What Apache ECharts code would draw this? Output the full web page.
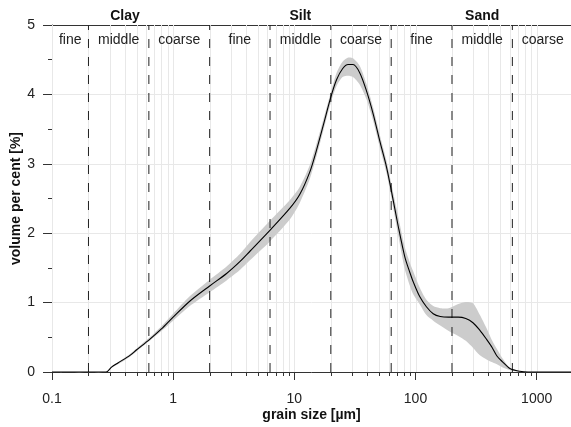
<!DOCTYPE html>
<html>
<head>
<meta charset="utf-8">
<script src="https://cdn.jsdelivr.net/npm/echarts@6/dist/echarts.min.js"></script>
<style>
  html, body { margin: 0; padding: 0; background: #fff; }
  #chart { width: 571px; height: 427px; }
</style>
</head>
<body>
<div id="chart"></div>
<script>
// grain size classes (µm)
var classBounds = [0.1, 0.2, 0.63, 2, 6.3, 20, 63, 200, 630, 2000]
var subNames = ['fine', 'middle', 'coarse', 'fine', 'middle', 'coarse', 'fine', 'middle', 'coarse']
var mainNames = ['Clay', 'Silt', 'Sand']
var mainCenters = [0.4, 11.2, 355]
var dividers = [0.2, 0.63, 2, 6.3, 20, 63, 200, 630]

// measured distribution
var sizes = [0.1, 0.28, 0.31, 0.35, 0.44, 0.5, 0.64, 0.8, 1.0, 1.37, 2.0, 2.76, 3.55, 4.3, 6.2, 9.2, 11.1, 13.4, 15.2, 17.3,
  20, 22.3, 25, 27.8, 30.5, 34.7, 39.4, 44.7, 50.7, 57.7, 63.4, 72, 81.6, 90, 95.7, 108, 123, 140, 160, 188,
  225, 260, 298, 340, 386, 430, 470, 520, 601, 725, 850, 1920]
var meanVol = [0, 0, 0.07, 0.13, 0.24, 0.32, 0.47, 0.62, 0.79, 1.02, 1.24, 1.42, 1.59, 1.74, 2.03, 2.36, 2.56, 2.88, 3.19, 3.55,
  3.96, 4.21, 4.37, 4.43, 4.43, 4.31, 4.05, 3.72, 3.33, 2.95, 2.60, 2.10, 1.66, 1.43, 1.30, 1.09, 0.94, 0.84, 0.80, 0.79,
  0.79, 0.77, 0.71, 0.60, 0.47, 0.35, 0.23, 0.15, 0.05, 0.01, 0, 0]
var lowVol = [0, 0, 0.06, 0.11, 0.22, 0.30, 0.45, 0.59, 0.74, 0.95, 1.15, 1.32, 1.47, 1.61, 1.87, 2.20, 2.44, 2.78, 3.10, 3.47,
  3.88, 4.12, 4.25, 4.27, 4.25, 4.14, 3.93, 3.62, 3.24, 2.86, 2.50, 1.97, 1.48, 1.24, 1.12, 0.98, 0.82, 0.74, 0.67, 0.59,
  0.52, 0.45, 0.35, 0.24, 0.18, 0.14, 0.11, 0.07, 0.03, 0, 0, 0]
var highVol = [0, 0, 0.08, 0.14, 0.26, 0.34, 0.50, 0.66, 0.84, 1.09, 1.33, 1.52, 1.70, 1.87, 2.17, 2.48, 2.67, 2.98, 3.28, 3.63,
  4.03, 4.31, 4.47, 4.53, 4.52, 4.41, 4.15, 3.81, 3.42, 3.04, 2.70, 2.24, 1.80, 1.57, 1.45, 1.22, 1.04, 0.95, 0.92, 0.92,
  0.98, 1.01, 0.99, 0.82, 0.63, 0.45, 0.33, 0.20, 0.06, 0.01, 0, 0]

var xTickLabels = ['0.1', '1', '10', '100', '1000']

var FONT = 'Liberation Sans, Arial, sans-serif'

// light vertical grid at 1..9 x 10^k, minor ticks at 2..9 x 10^k
var gridVals = []
var minorVals = []
for (var k = -1; k <= 3; k++) {
  for (var m = 1; m <= 9; m++) {
    var v = +(m * Math.pow(10, k)).toPrecision(3)
    if (v > 1920) continue
    gridVals.push(v)
    if (m > 1) minorVals.push(v)
  }
}

var subCenters = []
for (var i = 0; i < subNames.length; i++) {
  subCenters.push(Math.sqrt(classBounds[i] * classBounds[i + 1]))
}

var chart = echarts.init(document.getElementById('chart'), null, { renderer: 'canvas' })

// vertical line over full plot height
function vLine(api, x, style, snap) {
  var p0 = api.coord([x, 0])
  var p1 = api.coord([x, 5])
  var px = snap ? Math.round(p0[0]) + 0.5 : p0[0]
  return {
    type: 'line',
    shape: { x1: px, y1: p0[1], x2: px, y2: p1[1] },
    style: style
  }
}

var option = {
  animation: false,
  grid: { left: 52, right: 0, top: 25, bottom: 55, containLabel: false, outerBoundsMode: 'none' },
  xAxis: [{
    type: 'log',
    logBase: 10,
    min: 0.1,
    max: 1920,
    name: 'grain size [µm]',
    nameLocation: 'middle',
    nameGap: 36,
    nameMoveOverlap: false,
    nameTextStyle: { fontFamily: FONT, fontSize: 14, fontWeight: 'bold', color: '#111' },
    axisLine: { show: true, lineStyle: { color: '#333', width: 1 } },
    axisTick: { show: true, length: 8, lineStyle: { color: '#333' } },
    axisLabel: {
      fontFamily: FONT, fontSize: 14, color: '#222', margin: 20,
      showMaxLabel: false,
      formatter: function (val) {
        var idx = Math.round(Math.log10(val)) + 1
        return xTickLabels[idx] || ''
      }
    },
    splitLine: { show: false },
    minorTick: { show: false }
  }, {
    type: 'log',
    position: 'top',
    min: 0.1,
    max: 1920,
    axisLine: { show: true, lineStyle: { color: '#333', width: 1 } },
    axisTick: { show: false },
    axisLabel: { show: false },
    splitLine: { show: false }
  }],
  yAxis: {
    type: 'value',
    min: 0,
    max: 5,
    interval: 1,
    name: 'volume per cent [%]',
    nameLocation: 'middle',
    nameGap: 29,
    nameMoveOverlap: false,
    nameTextStyle: { fontFamily: FONT, fontSize: 14, fontWeight: 'bold', color: '#111' },
    axisLine: { show: true, lineStyle: { color: '#333', width: 1 } },
    axisTick: { show: true, length: 9, lineStyle: { color: '#333' } },
    minorTick: { show: true, splitNumber: 2, length: 4, lineStyle: { color: '#333' } },
    axisLabel: { fontFamily: FONT, fontSize: 14, color: '#222', margin: 17 },
    splitLine: { show: true, lineStyle: { color: '#e8e8e8', width: 1 } }
  },
  series: [
    {
      // light vertical grid
      type: 'custom',
      z: 1,
      silent: true,
      data: gridVals.map(function (v) { return [v, 0] }),
      renderItem: function (params, api) {
        return vLine(api, api.value(0), { stroke: '#e8e8e8', lineWidth: 1, lineDash: null }, true)
      }
    },
    {
      // min/max band
      type: 'custom',
      z: 2,
      silent: true,
      data: [[1, 1]],
      renderItem: function (params, api) {
        var pts = []
        for (var i = 0; i < sizes.length; i++) pts.push(api.coord([sizes[i], highVol[i]]))
        for (var j = sizes.length - 1; j >= 0; j--) pts.push(api.coord([sizes[j], lowVol[j]]))
        return {
          type: 'polygon',
          shape: { points: pts, smooth: 0.25 },
          style: { fill: '#cccccc', stroke: null }
        }
      }
    },
    {
      // class dividers
      type: 'custom',
      z: 3,
      silent: true,
      data: dividers.map(function (v) { return [v, 0] }),
      renderItem: function (params, api) {
        return vLine(api, api.value(0), { stroke: '#222', lineWidth: 1, lineDash: [9, 9] }, false)
      }
    },
    {
      name: 'mean',
      type: 'line',
      z: 4,
      data: sizes.map(function (s, i) { return [s, meanVol[i]] }),
      showSymbol: false,
      smooth: 0.3,
      lineStyle: { color: '#000', width: 1.1, type: 'solid' }
    },
    {
      // minor x ticks
      type: 'custom',
      z: 5,
      silent: true,
      clip: false,
      data: minorVals.map(function (v) { return [v, 0] }),
      renderItem: function (params, api) {
        var p = api.coord([api.value(0), 0])
        var x = Math.round(p[0]) + 0.5
        return {
          type: 'line',
          shape: { x1: x, y1: p[1], x2: x, y2: p[1] + 4 },
          style: { stroke: '#333', lineWidth: 1, lineDash: null }
        }
      }
    },
    {
      // class labels
      type: 'custom',
      z: 6,
      silent: true,
      clip: false,
      data: subCenters.map(function (c, i) { return [c, 5, i] }),
      renderItem: function (params, api) {
        var idx = api.value(2)
        var p = api.coord([api.value(0), 5])
        var children = [{
          type: 'text',
          x: p[0], y: p[1] + 15,
          style: { text: subNames[idx], fontFamily: FONT, fontSize: 14, fill: '#222', align: 'center', verticalAlign: 'middle' }
        }]
        if (idx % 3 === 1) {
          var g = (idx - 1) / 3
          var q = api.coord([mainCenters[g], 5])
          children.push({
            type: 'text',
            x: q[0], y: q[1] - 9,
            style: { text: mainNames[g], fontFamily: FONT, fontSize: 14, fontWeight: 'bold', fill: '#111', align: 'center', verticalAlign: 'middle' }
          })
        }
        return { type: 'group', children: children }
      }
    }
  ]
}

chart.setOption(option)
</script>
</body>
</html>
